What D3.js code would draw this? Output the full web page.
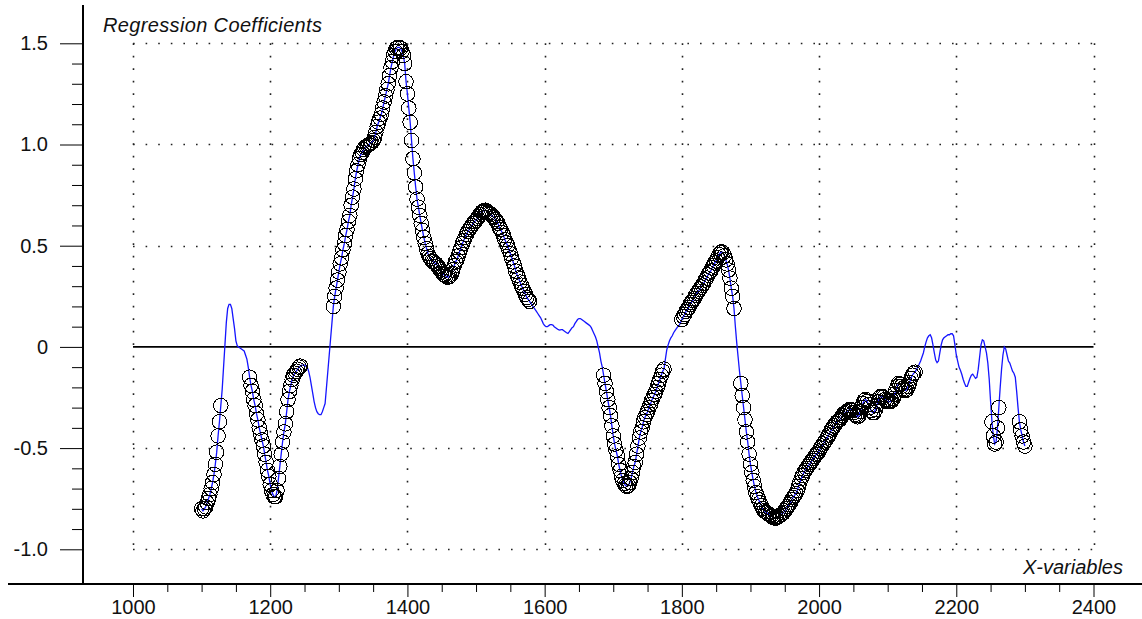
<!DOCTYPE html>
<html lang="en">
<head>
    <meta charset="utf-8">
    <script src="https://d3js.org/d3.v7.min.js"></script>
    <style>
        body { margin: 0; background: #fff; }
        text { font-family: "Liberation Sans", Arial, sans-serif; }
    </style>
</head>
<body>
    <svg id="chart"></svg>

    <script type="text/javascript">
        // wavelength grid of the coefficients (nm)
        const startNm = 1100;
        const stepNm = 2;

        // regression coefficients, one per 2 nm, 1100 .. 2300
        const coef = [
            -0.80, -0.81, -0.80, -0.79, -0.77, -0.75, -0.73, -0.70, -0.67, -0.63,
            -0.58, -0.52, -0.44, -0.37, -0.29, -0.21, -0.10, 0.01, 0.12, 0.19,
            0.21, 0.21, 0.19, 0.14, 0.09, 0.03, 0.005, 0.0, -0.005, -0.01,
            -0.015, -0.02, -0.04, -0.06, -0.10, -0.15, -0.19, -0.22, -0.26, -0.29,
            -0.33, -0.36, -0.40, -0.43, -0.46, -0.49, -0.53, -0.57, -0.61, -0.64,
            -0.68, -0.71, -0.73, -0.74, -0.74, -0.71, -0.65, -0.59, -0.53, -0.47,
            -0.42, -0.38, -0.32, -0.26, -0.22, -0.19, -0.16, -0.14, -0.13, -0.12,
            -0.11, -0.10, -0.095, -0.09, -0.09, -0.09, -0.095, -0.10, -0.12, -0.15,
            -0.19, -0.23, -0.27, -0.30, -0.32, -0.33, -0.335, -0.335, -0.32, -0.30,
            -0.28, -0.20, -0.12, -0.04, 0.04, 0.12, 0.20, 0.25, 0.29, 0.33,
            0.37, 0.41, 0.44, 0.48, 0.51, 0.55, 0.58, 0.62, 0.65, 0.70,
            0.74, 0.78, 0.83, 0.87, 0.90, 0.93, 0.95, 0.96, 0.975, 0.985,
            0.99, 0.995, 1.00, 1.005, 1.01, 1.02, 1.035, 1.06, 1.09, 1.11,
            1.13, 1.15, 1.18, 1.21, 1.24, 1.27, 1.30, 1.34, 1.38, 1.41,
            1.44, 1.46, 1.475, 1.48, 1.48, 1.475, 1.46, 1.44, 1.40, 1.31,
            1.25, 1.18, 1.11, 1.02, 0.93, 0.86, 0.79, 0.73, 0.69, 0.65,
            0.61, 0.575, 0.54, 0.51, 0.485, 0.46, 0.445, 0.435, 0.425, 0.42,
            0.415, 0.41, 0.40, 0.39, 0.38, 0.37, 0.36, 0.355, 0.35, 0.345,
            0.345, 0.35, 0.36, 0.38, 0.40, 0.42, 0.43, 0.45, 0.47, 0.49,
            0.51, 0.525, 0.54, 0.555, 0.57, 0.58, 0.59, 0.60, 0.61, 0.62,
            0.625, 0.635, 0.645, 0.655, 0.665, 0.67, 0.675, 0.675, 0.67, 0.665,
            0.66, 0.655, 0.645, 0.64, 0.63, 0.62, 0.61, 0.59, 0.58, 0.565,
            0.55, 0.53, 0.515, 0.50, 0.48, 0.46, 0.44, 0.42, 0.40, 0.375,
            0.355, 0.34, 0.32, 0.305, 0.29, 0.275, 0.26, 0.245, 0.235, 0.225,
            0.215, 0.205, 0.195, 0.185, 0.175, 0.165, 0.155, 0.145, 0.13, 0.115,
            0.105, 0.10, 0.10, 0.105, 0.11, 0.11, 0.108, 0.10, 0.095, 0.09,
            0.085, 0.083, 0.085, 0.085, 0.08, 0.075, 0.07, 0.067, 0.075, 0.085,
            0.095, 0.10, 0.115, 0.125, 0.135, 0.14, 0.14, 0.135, 0.13, 0.125,
            0.12, 0.115, 0.11, 0.105, 0.095, 0.08, 0.065, 0.05, 0.03, 0.00,
            -0.03, -0.07, -0.10, -0.14, -0.18, -0.22, -0.26, -0.30, -0.34, -0.39,
            -0.44, -0.48, -0.51, -0.54, -0.58, -0.61, -0.64, -0.66, -0.675, -0.685,
            -0.69, -0.685, -0.67, -0.65, -0.62, -0.59, -0.57, -0.53, -0.49, -0.45,
            -0.42, -0.40, -0.37, -0.35, -0.335, -0.32, -0.30, -0.285, -0.265, -0.25,
            -0.235, -0.22, -0.20, -0.18, -0.16, -0.14, -0.12, -0.11, -0.06, -0.015,
            0.01, 0.03, 0.045, 0.055, 0.07, 0.08, 0.09, 0.10, 0.105, 0.12,
            0.135, 0.15, 0.16, 0.175, 0.185, 0.195, 0.21, 0.22, 0.23, 0.24,
            0.255, 0.265, 0.275, 0.285, 0.295, 0.305, 0.315, 0.33, 0.34, 0.355,
            0.365, 0.375, 0.39, 0.40, 0.415, 0.425, 0.44, 0.455, 0.465, 0.47,
            0.465, 0.45, 0.43, 0.41, 0.38, 0.34, 0.29, 0.25, 0.19, 0.10,
            0.02, -0.05, -0.12, -0.18, -0.24, -0.30, -0.36, -0.42, -0.47, -0.53,
            -0.58, -0.62, -0.66, -0.69, -0.72, -0.74, -0.755, -0.77, -0.785, -0.80,
            -0.81, -0.815, -0.82, -0.825, -0.83, -0.835, -0.84, -0.845, -0.845, -0.845,
            -0.84, -0.835, -0.83, -0.825, -0.82, -0.81, -0.80, -0.79, -0.78, -0.77,
            -0.755, -0.745, -0.735, -0.725, -0.71, -0.69, -0.67, -0.65, -0.635, -0.62,
            -0.61, -0.60, -0.59, -0.58, -0.57, -0.56, -0.55, -0.54, -0.53, -0.525,
            -0.515, -0.50, -0.49, -0.48, -0.47, -0.46, -0.45, -0.435, -0.425, -0.41,
            -0.40, -0.39, -0.38, -0.37, -0.365, -0.36, -0.35, -0.34, -0.33, -0.325,
            -0.32, -0.315, -0.31, -0.31, -0.315, -0.325, -0.335, -0.34, -0.345, -0.34,
            -0.32, -0.30, -0.28, -0.265, -0.26, -0.27, -0.285, -0.30, -0.315, -0.325,
            -0.325, -0.31, -0.29, -0.27, -0.25, -0.245, -0.245, -0.25, -0.26, -0.265,
            -0.27, -0.27, -0.27, -0.265, -0.255, -0.235, -0.215, -0.195, -0.18, -0.185,
            -0.195, -0.205, -0.21, -0.215, -0.21, -0.195, -0.175, -0.155, -0.14, -0.13,
            -0.125, -0.11, -0.10, -0.085, -0.07, -0.05, -0.03, 0.00, 0.025, 0.045,
            0.055, 0.06, 0.045, 0.01, -0.03, -0.065, -0.078, -0.07, -0.03, 0.01,
            0.035, 0.045, 0.05, 0.055, 0.06, 0.06, 0.065, 0.065, 0.055, 0.01,
            -0.04, -0.07, -0.10, -0.115, -0.135, -0.16, -0.18, -0.195, -0.195, -0.175,
            -0.155, -0.14, -0.135, -0.145, -0.155, -0.15, -0.11, -0.05, 0.01, 0.035,
            0.03, 0.0, -0.03, -0.08, -0.16, -0.27, -0.37, -0.44, -0.48, -0.47,
            -0.40, -0.30, -0.20, -0.11, -0.04, 0.0, -0.01, -0.04, -0.07, -0.08,
            -0.10, -0.12, -0.13, -0.15, -0.22, -0.30, -0.37, -0.41, -0.44, -0.47,
            -0.49
        ];

        // wavelength ranges of the selected (circled) variables
        const selected = [
            [1100, 1128], [1170, 1244], [1292, 1578], [1686, 1774],
            [1800, 1876], [1886, 2140], [2252, 2262], [2292, 2300]
        ];

        // tick values
        const xMajor = [1000, 1200, 1400, 1600, 1800, 2000, 2200, 2400];
        const xMinor = [1050, 1100, 1150, 1250, 1300, 1350, 1450, 1500, 1550, 1650, 1700, 1750,
            1850, 1900, 1950, 2050, 2100, 2150, 2250, 2300, 2350];
        const yMajor = [-1.0, -0.5, 0, 0.5, 1.0, 1.5];
        const yMinor = [-0.9, -0.8, -0.7, -0.6, -0.4, -0.3, -0.2, -0.1, 0.1, 0.2, 0.3, 0.4,
            0.6, 0.7, 0.8, 0.9, 1.1, 1.2, 1.3, 1.4];
        const yGrid = [-1.0, -0.5, 0.5, 1.0, 1.5];

        const data = coef.map((v, i) => ({ nm: startNm + i * stepNm, v: v }));
        const circled = data.filter(d => selected.some(r => d.nm >= r[0] && d.nm <= r[1]));

        const width = 1142, height = 619;
        const axisX = 83, axisY = 584;

        const svg = d3.select("#chart")
            .attr("width", width)
            .attr("height", height);

        const x = d3.scaleLinear().domain([1000, 2400]).range([133, 1093.5]);
        const y = d3.scaleLinear().domain([-1, 1.5]).range([549.3, 43.3]);

        // dotted grid
        svg.append("g").selectAll("line")
            .data(yGrid)
            .enter().append("line")
            .attr("x1", x(1000)).attr("x2", x(2400))
            .attr("y1", d => Math.round(y(d)) + 0.5).attr("y2", d => Math.round(y(d)) + 0.5)
            .attr("stroke", "#222").attr("stroke-width", 1.6)
            .attr("stroke-dasharray", "1.6,11");

        svg.append("g").selectAll("line")
            .data(xMajor)
            .enter().append("line")
            .attr("x1", d => Math.round(x(d)) + 0.5).attr("x2", d => Math.round(x(d)) + 0.5)
            .attr("y1", y(1.5)).attr("y2", y(-1))
            .attr("stroke", "#222").attr("stroke-width", 1.6)
            .attr("stroke-dasharray", "1.6,10.9");

        // zero line
        svg.append("line")
            .attr("x1", x(1000)).attr("x2", x(2400))
            .attr("y1", y(0)).attr("y2", y(0))
            .attr("stroke", "#000").attr("stroke-width", 1.6);

        // coefficient curve
        const line = d3.line().x(d => x(d.nm)).y(d => y(d.v));
        svg.append("path")
            .datum(data)
            .attr("d", line)
            .attr("fill", "none")
            .attr("stroke", "#1515ff")
            .attr("stroke-width", 1.3);

        // selected variables (aliased, like the original)
        svg.append("g").selectAll("circle")
            .data(circled)
            .enter().append("circle")
            .attr("cx", d => x(d.nm))
            .attr("cy", d => y(d.v))
            .attr("r", 7.3)
            .attr("fill", "none")
            .attr("stroke", "#000")
            .attr("stroke-width", 1)
            .attr("shape-rendering", "crispEdges");

        // x axis
        const gx = svg.append("g").attr("transform", `translate(0,${axisY})`);
        gx.call(d3.axisBottom(x).tickValues(xMajor).tickSize(13).tickPadding(3).tickFormat(d3.format("d")));
        gx.call(g => g.select(".domain").remove());
        const gxm = svg.append("g").attr("transform", `translate(0,${axisY})`);
        gxm.call(d3.axisBottom(x).tickValues(xMinor).tickSize(8).tickFormat(""));
        gxm.call(g => g.select(".domain").remove());

        // y axis
        const gy = svg.append("g").attr("transform", `translate(${axisX},0)`);
        gy.call(d3.axisLeft(y).tickValues(yMajor).tickSize(23).tickPadding(12)
            .tickFormat(d => d === 0 ? "0" : d.toFixed(1)));
        gy.call(g => g.select(".domain").remove());
        const gym = svg.append("g").attr("transform", `translate(${axisX},0)`);
        gym.call(d3.axisLeft(y).tickValues(yMinor).tickSize(11).tickFormat(""));
        gym.call(g => g.select(".domain").remove());

        svg.selectAll(".tick text")
            .attr("font-size", 20)
            .attr("font-family", "'Liberation Sans', Arial, sans-serif")
            .attr("fill", "#111");
        svg.selectAll(".tick line").attr("stroke", "#000");

        // axis lines
        svg.append("line")
            .attr("x1", 8).attr("x2", width)
            .attr("y1", axisY).attr("y2", axisY)
            .attr("stroke", "#000").attr("stroke-width", 2);
        svg.append("line")
            .attr("x1", axisX).attr("x2", axisX)
            .attr("y1", 5).attr("y2", axisY)
            .attr("stroke", "#000").attr("stroke-width", 2);

        // titles
        svg.append("text")
            .attr("x", 103).attr("y", 32)
            .attr("font-size", 20).attr("font-style", "italic")
            .attr("textLength", 219).attr("lengthAdjust", "spacing")
            .attr("fill", "#111")
            .text("Regression Coefficients");
        svg.append("text")
            .attr("x", 1123).attr("y", 574)
            .attr("text-anchor", "end")
            .attr("font-size", 20).attr("font-style", "italic")
            .attr("fill", "#111")
            .text("X-variables");
    </script>
</body>
</html>
